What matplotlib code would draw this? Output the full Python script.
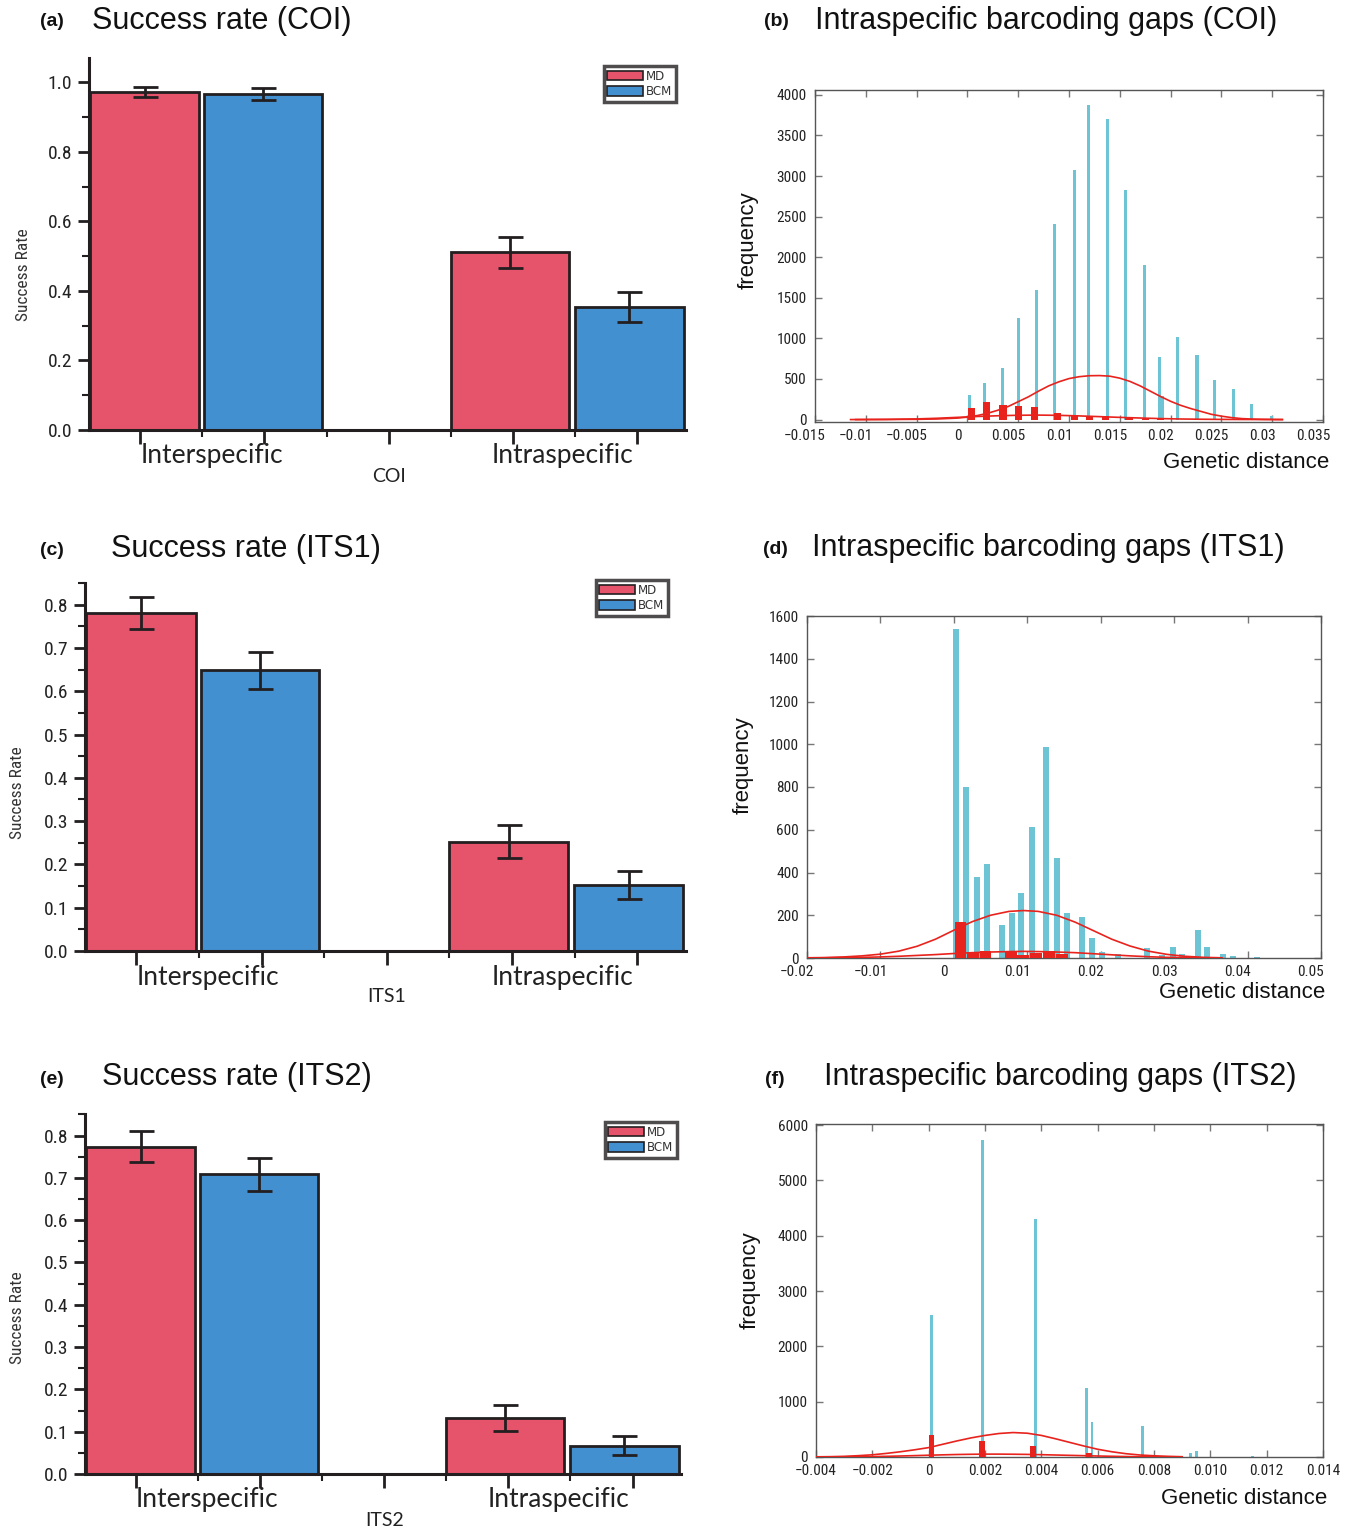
#!/usr/bin/env python3
"""Success rates (MD vs BCM) and intraspecific barcoding gap histograms for COI, ITS1, ITS2."""

import matplotlib

matplotlib.use("Agg")
import matplotlib.pyplot as plt
import matplotlib.transforms as mtransforms
from matplotlib import font_manager
from matplotlib.patches import Patch
from matplotlib.ticker import MultipleLocator, FormatStrFormatter


def pick_font(*names):
    avail = {f.name for f in font_manager.fontManager.ttflist}
    for n in names:
        if n in avail:
            return n
    return "DejaVu Sans"


SANS = pick_font("Liberation Sans", "Arial")
NARROW = pick_font("Liberation Sans Narrow", "Roboto Condensed", "Liberation Sans")
HUMAN = pick_font("Lato", "Open Sans", "Liberation Sans")

MD_COLOR = "#e5546b"
BCM_COLOR = "#4390d0"
EDGE = "#231f20"
CYAN = "#6cc4d4"
RED = "#e8231d"

# ---- success rate data (Interspecific, Intraspecific) ----
groups = ["Interspecific", "Intraspecific"]
legend_labels = ["MD", "BCM"]

coi_md = [0.973, 0.511]
coi_md_err = [0.015, 0.044]
coi_bcm = [0.966, 0.353]
coi_bcm_err = [0.017, 0.043]

its1_md = [0.780, 0.252]
its1_md_err = [0.037, 0.038]
its1_bcm = [0.648, 0.152]
its1_bcm_err = [0.042, 0.032]

its2_md = [0.774, 0.132]
its2_md_err = [0.036, 0.030]
its2_bcm = [0.709, 0.067]
its2_bcm_err = [0.039, 0.022]

# ---- barcoding gap histograms ----
coi_blue_x = [0.0002, 0.0017, 0.0035, 0.0050, 0.0068, 0.0086, 0.0105, 0.0119, 0.0138,
              0.0156, 0.0174, 0.0189, 0.0192, 0.0207, 0.0226, 0.0243, 0.0262, 0.0280, 0.0299]
coi_blue_h = [308, 451, 632, 1251, 1592, 2412, 3077, 3873, 3700,
              2823, 1904, 771, 287, 1017, 796, 492, 377, 197, 49]
coi_red_x = [0.0004, 0.0019, 0.0035, 0.0050, 0.0066, 0.0089, 0.0105, 0.0120, 0.0136,
             0.0159, 0.0175, 0.0190, 0.0229]
coi_red_h = [140, 215, 185, 168, 150, 85, 60, 28, 40, 27, 10, 8, 8]
coi_fit1_x = [-0.0115, -0.008, -0.005, -0.003, -0.001, 0.0, 0.001, 0.002, 0.003, 0.004,
              0.005, 0.006, 0.007, 0.008, 0.009, 0.010, 0.011, 0.012, 0.013, 0.014,
              0.015, 0.016, 0.017, 0.018, 0.019, 0.020, 0.021, 0.022, 0.023, 0.024,
              0.025, 0.026, 0.027, 0.028, 0.029, 0.031]
coi_fit1_y = [0, 1, 3, 7, 18, 30, 50, 78, 115, 160,
              220, 280, 350, 415, 465, 505, 528, 540, 542, 535,
              510, 470, 415, 350, 285, 225, 175, 135, 100, 65,
              42, 24, 12, 6, 3, 0]
coi_fit2_x = [-0.011, -0.008, -0.005, -0.003, -0.001, 0.001, 0.003, 0.005, 0.007, 0.009,
              0.011, 0.013, 0.015, 0.017, 0.019, 0.021, 0.023, 0.025, 0.027, 0.031]
coi_fit2_y = [0, 2, 8, 16, 27, 38, 47, 53, 55, 52, 45, 36, 27, 19, 12, 7, 4, 2, 1, 0]
coi_xticks = [-0.015, -0.01, -0.005, 0, 0.005, 0.01, 0.015, 0.02, 0.025, 0.03, 0.035]
coi_xlabels = ["\u22120.015", "\u22120.01", "\u22120.005", "0", "0.005", "0.01", "0.015",
               "0.02", "0.025", "0.03", "0.035"]
coi_yticks = [0, 500, 1000, 1500, 2000, 2500, 3000, 3500, 4000]

its1_blue_x = [0.0003, 0.0017, 0.0031, 0.0045, 0.0065, 0.0079, 0.0092, 0.0106, 0.0126, 0.0140,
               0.0154, 0.0174, 0.0188, 0.0202, 0.0223, 0.0263, 0.0284, 0.0298, 0.0311, 0.0332,
               0.0345, 0.0366, 0.0380, 0.0413]
its1_blue_h = [1538, 798, 377, 442, 156, 210, 302, 611, 989, 470,
               209, 190, 93, 26, 19, 45, 16, 50, 19, 131,
               50, 19, 9, 3]
its1_red_x = [0.0009, 0.0026, 0.0043, 0.0078, 0.0094, 0.0112, 0.0130, 0.0147]
its1_red_h = [167, 26, 34, 31, 16, 22, 34, 19]
its1_fit1_x = [-0.02, -0.0175, -0.015, -0.0125, -0.01, -0.0075, -0.005, -0.0025, 0.0, 0.0025,
               0.005, 0.0075, 0.0095, 0.0115, 0.014, 0.0165, 0.019, 0.0215, 0.024, 0.0265,
               0.029, 0.0315, 0.034, 0.0365]
its1_fit1_y = [1, 2, 5, 10, 18, 32, 55, 88, 130, 170,
               200, 218, 222, 218, 200, 168, 128, 88, 56, 32,
               17, 8, 3, 1]
its1_fit2_x = its1_fit1_x
its1_fit2_y = [0, 1, 2, 3, 5, 8, 12, 16, 21, 25,
               28, 30, 31, 30, 28, 25, 20, 15, 10, 6,
               3, 2, 1, 0]
its1_xticks = [-0.02, -0.01, 0, 0.01, 0.02, 0.03, 0.04, 0.05]
its1_xlabels = ["\u22120.02", "\u22120.01", "0", "0.01", "0.02", "0.03", "0.04", "0.05"]
its1_yticks = [0, 200, 400, 600, 800, 1000, 1200, 1400, 1600]

its2_blue_x = [0.0001, 0.0019, 0.0038, 0.0056, 0.0058, 0.0076, 0.0093, 0.0095, 0.0115]
its2_blue_h = [2570, 5729, 4309, 1240, 638, 566, 72, 108, 24]
its2_red_x = [0.0001, 0.0019, 0.0037, 0.0057]
its2_red_h = [397, 283, 193, 72]
its2_fit1_x = [-0.004, -0.0035, -0.003, -0.0025, -0.002, -0.0015, -0.001, -0.0005, 0.0,
               0.0005, 0.001, 0.0015, 0.002, 0.0025, 0.003, 0.0035, 0.004, 0.0045,
               0.005, 0.0055, 0.006, 0.0065, 0.007, 0.0075, 0.008, 0.0085, 0.009]
its2_fit1_y = [3, 6, 12, 24, 40, 65, 95, 130, 170,
               230, 290, 345, 390, 425, 442, 430, 390, 330,
               265, 200, 140, 95, 60, 36, 22, 12, 5]
its2_fit2_x = its2_fit1_x
its2_fit2_y = [0, 1, 3, 5, 8, 12, 18, 25, 32,
               39, 45, 49, 52, 52, 50, 47, 42, 36,
               30, 24, 18, 13, 8, 5, 3, 1, 0]
its2_xticks = [-0.004, -0.002, 0, 0.002, 0.004, 0.006, 0.008, 0.010, 0.012, 0.014]
its2_xlabels = ["\u22120.004", "\u22120.002", "0", "0.002", "0.004", "0.006", "0.008",
                "0.010", "0.012", "0.014"]
its2_yticks = [0, 1000, 2000, 3000, 4000, 5000, 6000]

W, H = 1351, 1530
fig = plt.figure(figsize=(W / 100, H / 100), dpi=100)


def fig_rect(left, top, right, bottom):
    return [left / W, 1 - bottom / H, (right - left) / W, (bottom - top) / H]


def fig_text(x, y, s, **kw):
    fig.text(x / W, 1 - y / H, s, **kw)


def draw_bars(rect, md, md_err, bcm, bcm_err, ymax, major, gene, legend_xy):
    ax = fig.add_axes(rect)
    err_kw = dict(elinewidth=2, capthick=2, ecolor=EDGE)
    # outer bars sit flush against the axis ends, so they are a little narrower
    ax.bar([0.075, 5.95], md, width=[1.75, 1.9], color=MD_COLOR, edgecolor=EDGE, linewidth=2,
           yerr=md_err, capsize=9, error_kw=err_kw, zorder=2)
    ax.bar([1.975, 7.865], bcm, width=[1.9, 1.75], color=BCM_COLOR, edgecolor=EDGE, linewidth=2,
           yerr=bcm_err, capsize=9, error_kw=err_kw, zorder=2)
    ax.set_xlim(-0.82, 8.78)
    ax.set_ylim(0, ymax)
    for side in ("top", "right"):
        ax.spines[side].set_visible(False)
    for side in ("left", "bottom"):
        ax.spines[side].set_linewidth(2.2)
        ax.spines[side].set_color(EDGE)
        ax.spines[side].set_zorder(3)
    ax.set_xticks([0, 2, 4, 6, 8])
    ax.set_xticks([1, 3, 5, 7], minor=True)
    ax.set_xticklabels([])
    ax.tick_params(axis="x", which="major", length=10, width=2, color=EDGE)
    ax.tick_params(axis="x", which="minor", length=5, width=1.5, color=EDGE)
    ax.yaxis.set_major_locator(MultipleLocator(major))
    ax.yaxis.set_minor_locator(MultipleLocator(major / 2))
    ax.yaxis.set_major_formatter(FormatStrFormatter("%.1f"))
    ax.tick_params(axis="y", which="major", length=8, width=2, color=EDGE,
                   labelsize=14, pad=4)
    ax.tick_params(axis="y", which="minor", length=5, width=1.5, color=EDGE)
    for lab in ax.get_yticklabels():
        lab.set_fontfamily(NARROW)
        lab.set_color("#222222")
    for xpos, name in zip([1.15, 6.8], groups):
        ax.annotate(name, xy=(xpos, 0), xycoords=("data", "axes fraction"),
                    xytext=(0, -26), textcoords="offset pixels", ha="center", va="center",
                    fontsize=19, family=HUMAN, color="#222222")
    ax.annotate(gene, xy=(4, 0), xycoords=("data", "axes fraction"),
                xytext=(0, -46), textcoords="offset pixels", ha="center", va="center",
                fontsize=14, family=HUMAN, color="#222222")
    handles = [Patch(facecolor=MD_COLOR, edgecolor=EDGE, linewidth=1.2, label=legend_labels[0]),
               Patch(facecolor=BCM_COLOR, edgecolor=EDGE, linewidth=1.2, label=legend_labels[1])]
    leg = ax.legend(handles=handles, loc="upper right",
                    bbox_to_anchor=(legend_xy[0] / W, 1 - legend_xy[1] / H),
                    bbox_transform=fig.transFigure, fontsize=8.5, frameon=True, fancybox=False,
                    edgecolor=EDGE, handlelength=3.0, handleheight=0.9, handletextpad=0.3,
                    borderpad=0.3, labelspacing=0.22, borderaxespad=0)
    leg.get_frame().set_linewidth(2.5)
    for t in leg.get_texts():
        t.set_color("#333333")
    return ax


def draw_hist(rect, bx, bh, bw, rx, rh, rw, f1x, f1y, f2x, f2y,
              xlim, ylim, xticks, xlabels, yticks, xshift):
    ax = fig.add_axes(rect)
    ax.bar(bx, bh, width=bw, color=CYAN, zorder=2)
    ax.bar(rx, rh, width=rw, color=RED, zorder=3)
    ax.plot(f1x, f1y, color=RED, linewidth=1.2, zorder=4)
    ax.plot(f2x, f2y, color=RED, linewidth=1.2, zorder=4)
    ax.set_xlim(*xlim)
    ax.set_ylim(*ylim)
    ax.set_xticks(xticks)
    ax.set_xticklabels(xlabels)
    ax.set_yticks(yticks)
    ax.set_yticklabels([str(v) for v in yticks])
    for s in ax.spines.values():
        s.set_color("#555555")
        s.set_linewidth(1.0)
    ax.tick_params(direction="in", top=True, right=True, length=5, width=1,
                   color="#777777", labelsize=11, labelcolor="#222222")
    ax.tick_params(axis="x", pad=5)
    ax.tick_params(axis="y", pad=6)
    shift = mtransforms.ScaledTranslation(xshift / 100, 0, fig.dpi_scale_trans)
    for lab in ax.get_xticklabels():
        lab.set_fontfamily(NARROW)
        lab.set_transform(lab.get_transform() + shift)
    for lab in ax.get_yticklabels():
        lab.set_fontfamily(NARROW)
    return ax


# ---- bar panels ----
draw_bars(fig_rect(89, 58, 686, 430), coi_md, coi_md_err, coi_bcm, coi_bcm_err,
          1.07, 0.2, "COI", (676, 66))
draw_bars(fig_rect(85, 583, 686, 951), its1_md, its1_md_err, its1_bcm, its1_bcm_err,
          0.85, 0.1, "ITS1", (668, 580))
draw_bars(fig_rect(85, 1114, 681, 1474), its2_md, its2_md_err, its2_bcm, its2_bcm_err,
          0.851, 0.1, "ITS2", (677, 1122))

# ---- histogram panels ----
draw_hist(fig_rect(815, 90, 1323, 422), coi_blue_x, coi_blue_h, 0.0003,
          coi_red_x, coi_red_h, 0.0007, coi_fit1_x, coi_fit1_y, coi_fit2_x, coi_fit2_y,
          (-0.015, 0.035), (-30, 4060), coi_xticks, coi_xlabels, coi_yticks, -10)
draw_hist(fig_rect(807, 616, 1321, 958), its1_blue_x, its1_blue_h, 0.0008,
          its1_red_x, its1_red_h, 0.0016, its1_fit1_x, its1_fit1_y, its1_fit2_x, its1_fit2_y,
          (-0.02, 0.05), (0, 1600), its1_xticks, its1_xlabels, its1_yticks, -10)
draw_hist(fig_rect(816, 1124, 1323, 1457), its2_blue_x, its2_blue_h, 0.0001,
          its2_red_x, its2_red_h, 0.0002, its2_fit1_x, its2_fit1_y, its2_fit2_x, its2_fit2_y,
          (-0.004, 0.014), (0, 6020), its2_xticks, its2_xlabels, its2_yticks, 0)

# ---- titles and axis labels ----
title_kw = dict(fontsize=22, family=SANS, va="center", ha="left", color="#111111")
tag_kw = dict(fontsize=14, family=SANS, weight="bold", va="center", ha="center", color="#111111")

fig_text(52, 22, "(a)", **tag_kw)
fig_text(92, 21, "Success rate (COI)", **title_kw)
fig_text(776, 22, "(b)", **tag_kw)
fig_text(815, 21, "Intraspecific barcoding gaps (COI)", **title_kw)
fig_text(52, 550, "(c)", **tag_kw)
fig_text(111, 549, "Success rate (ITS1)", **title_kw)
fig_text(775, 549, "(d)", **tag_kw)
fig_text(812, 548, "Intraspecific barcoding gaps (ITS1)", **title_kw)
fig_text(52, 1080, "(e)", **tag_kw)
fig_text(102, 1077, "Success rate (ITS2)", **title_kw)
fig_text(775, 1080, "(f)", **tag_kw)
fig_text(824, 1077, "Intraspecific barcoding gaps (ITS2)", **title_kw)

ylab_kw = dict(fontsize=12.5, family=NARROW, rotation=90, va="center", ha="center", color="#333333")
fig_text(24, 275, "Success Rate", **ylab_kw)
fig_text(18, 793, "Success Rate", **ylab_kw)
fig_text(18, 1318, "Success Rate", **ylab_kw)

freq_kw = dict(fontsize=16, family=SANS, rotation=90, va="center", ha="center", color="#111111")
fig_text(748, 240, "frequency", **freq_kw)
fig_text(743, 765, "frequency", **freq_kw)
fig_text(750, 1280, "frequency", **freq_kw)

gd_kw = dict(fontsize=16, family=SANS, va="center", ha="right", color="#111111")
fig_text(1329, 463, "Genetic distance", **gd_kw)
fig_text(1325, 992, "Genetic distance", **gd_kw)
fig_text(1327, 1499, "Genetic distance", **gd_kw)

fig.savefig("out.png", dpi=100)
